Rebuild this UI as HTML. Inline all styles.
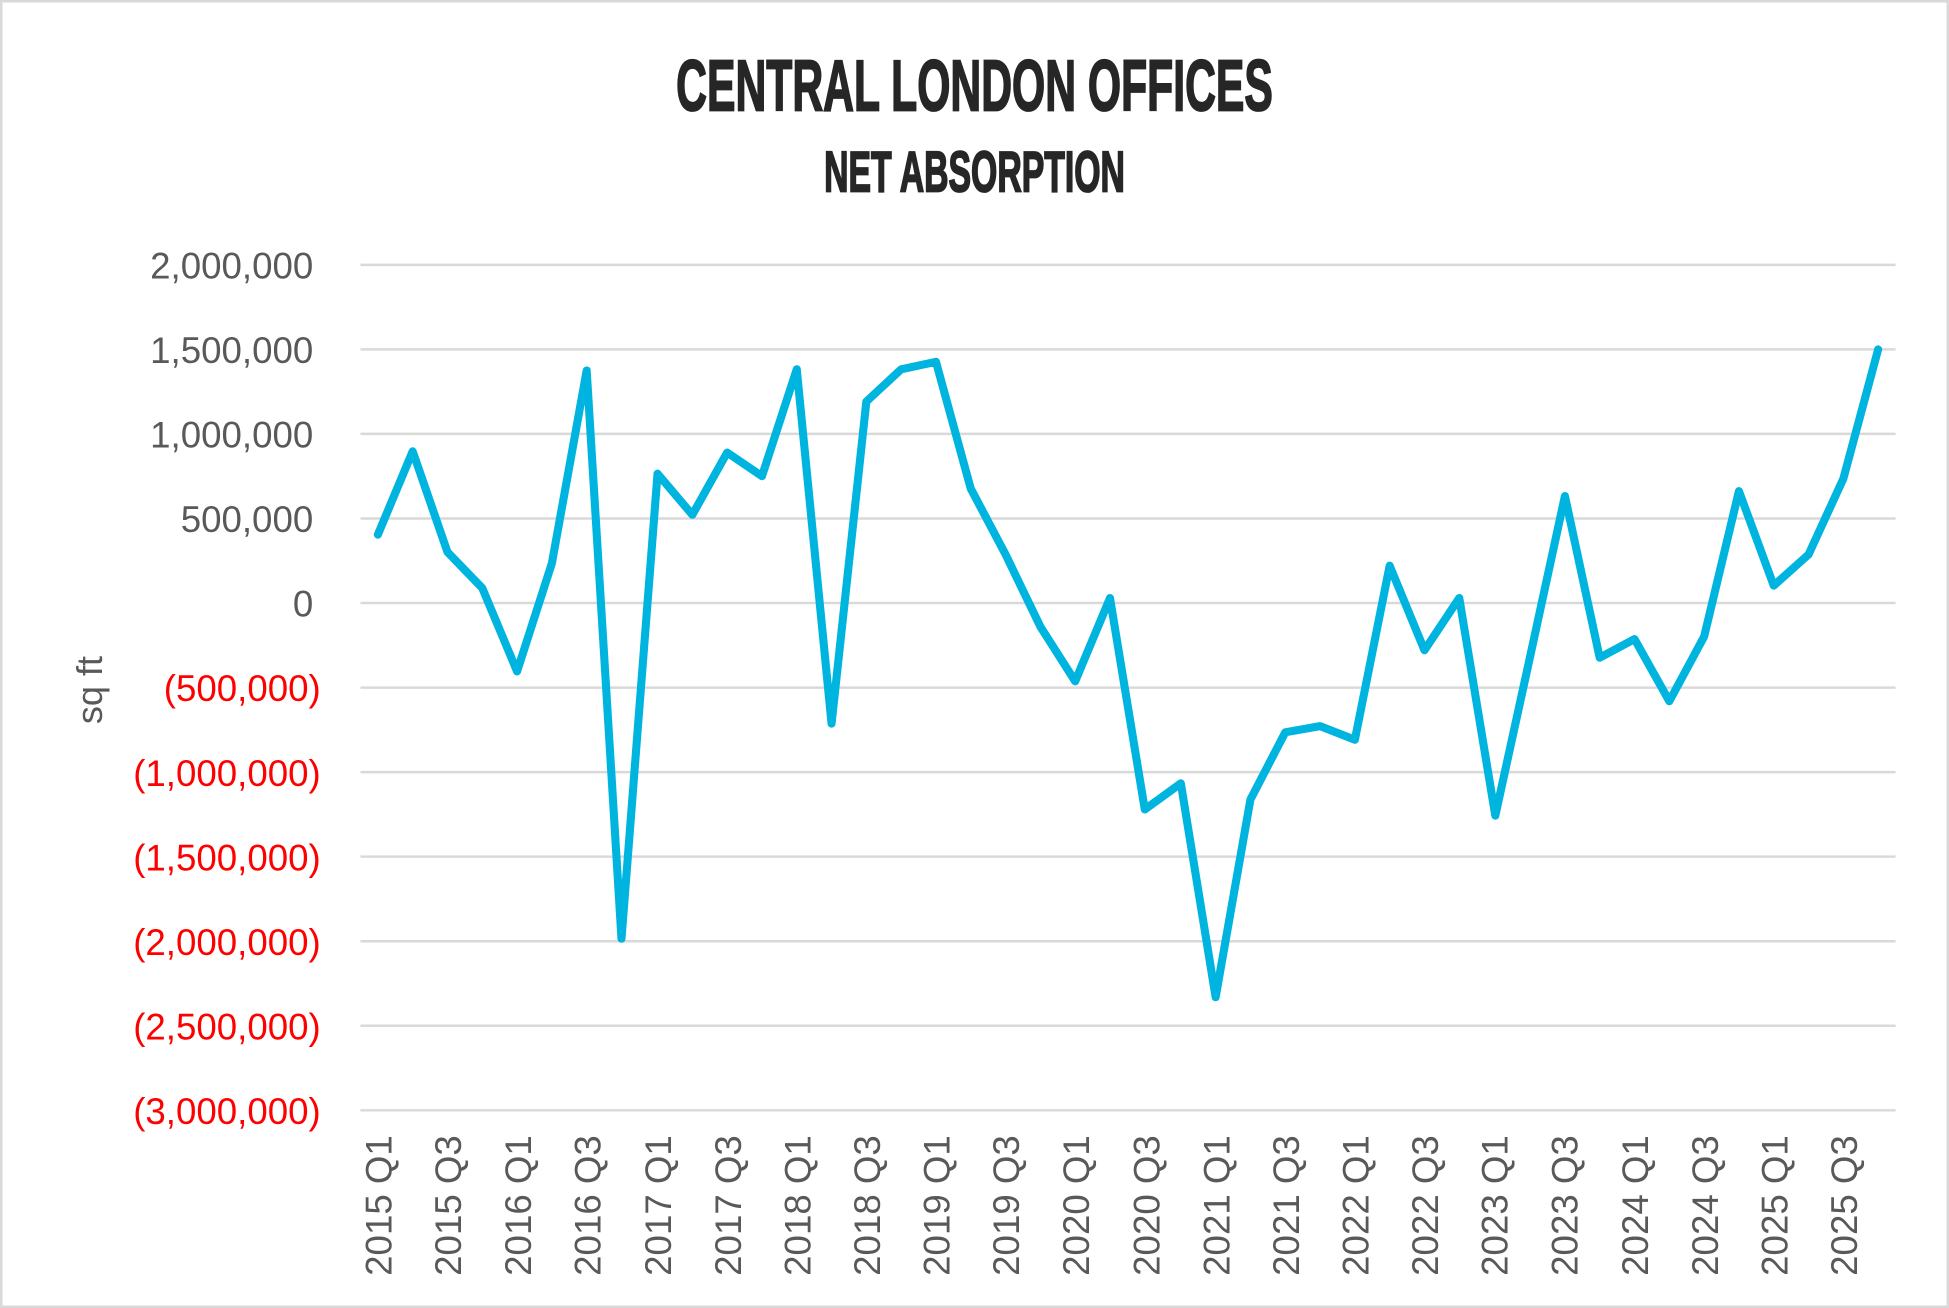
<!DOCTYPE html>
<html><head><meta charset="utf-8"><style>html,body{margin:0;padding:0;background:#fff}svg{display:block}</style></head>
<body>
<svg width="1949" height="1308" viewBox="0 0 1568 1052" preserveAspectRatio="none" xmlns="http://www.w3.org/2000/svg">
<rect x="1" y="1" width="1566" height="1050" fill="#fff" stroke="#d9d9d9" stroke-width="2"/>
<g font-family="Liberation Sans, sans-serif" font-weight="bold" fill="#262626" text-anchor="middle" stroke="#262626" stroke-width="1.5">
<text x="784" y="89" font-size="58" textLength="480" lengthAdjust="spacingAndGlyphs">CENTRAL LONDON OFFICES</text>
<text x="784" y="154" font-size="46" textLength="242" lengthAdjust="spacingAndGlyphs">NET ABSORPTION</text>
</g>
<g stroke="#d9d9d9" stroke-width="2">
<line x1="290" x2="1525" y1="213" y2="213"/><line x1="290" x2="1525" y1="281" y2="281"/>
<line x1="290" x2="1525" y1="349" y2="349"/><line x1="290" x2="1525" y1="417" y2="417"/>
<line x1="290" x2="1525" y1="485" y2="485"/><line x1="290" x2="1525" y1="553" y2="553"/>
<line x1="290" x2="1525" y1="621" y2="621"/><line x1="290" x2="1525" y1="689" y2="689"/>
<line x1="290" x2="1525" y1="757" y2="757"/><line x1="290" x2="1525" y1="825" y2="825"/>
<line x1="290" x2="1525" y1="893" y2="893"/>
</g>
<g font-family="Liberation Sans, sans-serif" font-size="29.5" text-anchor="end">
<text x="252" y="224" fill="#595959">2,000,000</text>
<text x="252" y="292" fill="#595959">1,500,000</text>
<text x="252" y="360" fill="#595959">1,000,000</text>
<text x="252" y="428" fill="#595959">500,000</text>
<text x="252" y="496" fill="#595959">0</text>
<text x="258" y="564" fill="#ff0000">(500,000)</text>
<text x="258" y="632" fill="#ff0000">(1,000,000)</text>
<text x="258" y="700" fill="#ff0000">(1,500,000)</text>
<text x="258" y="768" fill="#ff0000">(2,000,000)</text>
<text x="258" y="836" fill="#ff0000">(2,500,000)</text>
<text x="258" y="904" fill="#ff0000">(3,000,000)</text>
</g>
<text transform="translate(82,555) rotate(-90)" font-family="Liberation Sans, sans-serif" font-size="29" fill="#595959" text-anchor="middle">sq ft</text>
<g font-family="Liberation Sans, sans-serif" font-size="29.5" fill="#595959" text-anchor="end">
<text transform="translate(315,913) rotate(-90)">2015 Q1</text>
<text transform="translate(371,913) rotate(-90)">2015 Q3</text>
<text transform="translate(427,913) rotate(-90)">2016 Q1</text>
<text transform="translate(483,913) rotate(-90)">2016 Q3</text>
<text transform="translate(540,913) rotate(-90)">2017 Q1</text>
<text transform="translate(596,913) rotate(-90)">2017 Q3</text>
<text transform="translate(652,913) rotate(-90)">2018 Q1</text>
<text transform="translate(708,913) rotate(-90)">2018 Q3</text>
<text transform="translate(764,913) rotate(-90)">2019 Q1</text>
<text transform="translate(820,913) rotate(-90)">2019 Q3</text>
<text transform="translate(876,913) rotate(-90)">2020 Q1</text>
<text transform="translate(933,913) rotate(-90)">2020 Q3</text>
<text transform="translate(989,913) rotate(-90)">2021 Q1</text>
<text transform="translate(1045,913) rotate(-90)">2021 Q3</text>
<text transform="translate(1101,913) rotate(-90)">2022 Q1</text>
<text transform="translate(1157,913) rotate(-90)">2022 Q3</text>
<text transform="translate(1213,913) rotate(-90)">2023 Q1</text>
<text transform="translate(1269,913) rotate(-90)">2023 Q3</text>
<text transform="translate(1326,913) rotate(-90)">2024 Q1</text>
<text transform="translate(1382,913) rotate(-90)">2024 Q3</text>
<text transform="translate(1438,913) rotate(-90)">2025 Q1</text>
<text transform="translate(1494,913) rotate(-90)">2025 Q3</text>
</g>
<polyline fill="none" stroke="#00b4e0" stroke-width="6.5" stroke-linejoin="round" stroke-linecap="round" points="
304,430 332,363 360,444 388,473 416,540 444,453 472,298 500,755 529,381 557,414 585,364 613,383 641,297 669,582 697,323 725,297 753,291 781,393 809,446 837,504 865,548 893,481 921,651 950,630 978,802 1006,643 1034,589 1062,584 1090,595 1118,455 1146,523 1174,481 1203,656 1231,528 1259,399 1287,529 1315,514 1343,564 1371,512 1399,395 1427,471 1455,446 1483,385 1511,281"/>
</svg>
</body></html>
